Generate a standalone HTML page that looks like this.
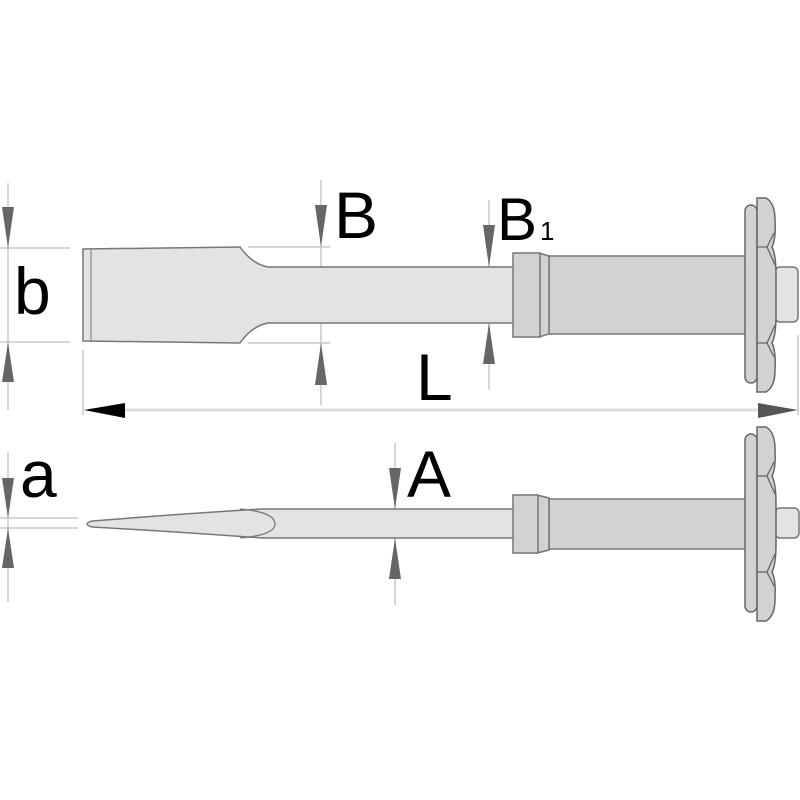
<!DOCTYPE html>
<html><head><meta charset="utf-8"><style>html,body{margin:0;padding:0;background:#fff}svg{display:block}text{font-family:"Liberation Sans",Arial,sans-serif;fill:#000}</style></head><body>
<svg width="800" height="800" viewBox="0 0 800 800" xmlns="http://www.w3.org/2000/svg">
<defs>
<g id="guard">
<rect x="745" y="-90" width="12" height="178" rx="6" fill="#d2d2d2" stroke="#666" stroke-width="1.5"/>
<path d="M757,-97 L766,-97 Q775,-92 775,-75 Q776,-56 772,-48 Q776,-40 776,-20 L776,20 Q776,40 772,48 Q776,56 775,75 Q775,92 766,97 L757,97 Z" fill="#d2d2d2" stroke="#666" stroke-width="1.5"/>
<path d="M757,-48 L767,-48 L774,-62 M767,-48 L775,-30 M757,48 L767,48 L774,62 M767,48 L775,30" fill="none" stroke="#666" stroke-width="1.3"/>
</g>
</defs>
<g stroke="#c8c8c8" stroke-width="1.5" fill="none">
<line x1="8" y1="183" x2="8" y2="410"/>
<line x1="0" y1="248" x2="70" y2="248"/><line x1="0" y1="342" x2="70" y2="342"/>
<line x1="321" y1="180" x2="321" y2="405"/>
<line x1="248" y1="247" x2="330" y2="247"/><line x1="248" y1="343" x2="330" y2="343"/>
<line x1="489" y1="200" x2="489" y2="390"/>
<line x1="83" y1="350" x2="83" y2="415"/>
<line x1="798" y1="335" x2="798" y2="415"/>
<line x1="8" y1="452" x2="8" y2="602"/>
<line x1="0" y1="518" x2="78" y2="518"/><line x1="0" y1="528" x2="78" y2="528"/>
<line x1="395" y1="443" x2="395" y2="605"/>
</g>
<line x1="90" y1="410" x2="790" y2="410" stroke="#dcdcdc" stroke-width="3"/>
<polygon points="84,410 125,403 125,418" fill="#000"/>
<polygon points="798,410 758,403 758,418" fill="#555"/>
<g fill="#666">
<polygon points="2,207 14,207 8,248"/><polygon points="2,382 14,382 8,342"/>
<polygon points="315,205 327,205 321,247"/><polygon points="315,385 327,385 321,343"/>
<polygon points="483,225 495,225 489,267"/><polygon points="483,364 495,364 489,323"/>
<polygon points="2,478 14,478 8,518"/><polygon points="2,568 14,568 8,528"/>
<polygon points="389,468 401,468 395,509"/><polygon points="389,579 401,579 395,538"/>
</g>
<path d="M83,249 L240,247 Q252,264 268,267 L514,267 L514,323 L268,323 Q252,326 240,343 L83,341 Z" fill="#e3e3e3" stroke="#777" stroke-width="1.5"/>
<line x1="91" y1="249" x2="91" y2="341" stroke="#888" stroke-width="1.2"/>
<rect x="775" y="267" width="23" height="55" rx="5" fill="#e3e3e3" stroke="#777" stroke-width="1.5"/>
<rect x="549" y="256" width="198" height="78" fill="#d2d2d2" stroke="#777" stroke-width="1.5"/>
<path d="M539,253 L549,256 L549,334 L539,337 Z" fill="#d2d2d2" stroke="#777" stroke-width="1.5"/>
<rect x="513" y="253" width="27" height="84" fill="#d2d2d2" stroke="#777" stroke-width="1.5"/>
<use href="#guard" transform="translate(0,295)"/>
<path d="M262,509 L514,509 L514,538 L262,538 Q180,532 92,527 Q82,524 92,521 Q180,514 262,509 Z" fill="#e3e3e3" stroke="#777" stroke-width="1.5"/>
<path d="M240,509 Q275,512 275,524 Q275,535 240,538" fill="none" stroke="#777" stroke-width="1.3"/>
<rect x="775" y="508" width="24" height="30" rx="5" fill="#e3e3e3" stroke="#777" stroke-width="1.5"/>
<rect x="549" y="499" width="198" height="50" fill="#d2d2d2" stroke="#777" stroke-width="1.5"/>
<path d="M537,495 L549,498 L549,550 L537,553 Z" fill="#d2d2d2" stroke="#777" stroke-width="1.5"/>
<rect x="513" y="495" width="25" height="58" fill="#d2d2d2" stroke="#777" stroke-width="1.5"/>
<use href="#guard" transform="translate(0,524)"/>
<text x="14" y="314" font-size="66">b</text>
<text x="334" y="238" font-size="66">B</text>
<text x="497" y="240" font-size="60">B</text>
<text x="540" y="240" font-size="26">1</text>
<text x="416" y="400" font-size="66">L</text>
<text x="20" y="497" font-size="66">a</text>
<text x="407" y="497" font-size="66">A</text>
</svg>
</body></html>
